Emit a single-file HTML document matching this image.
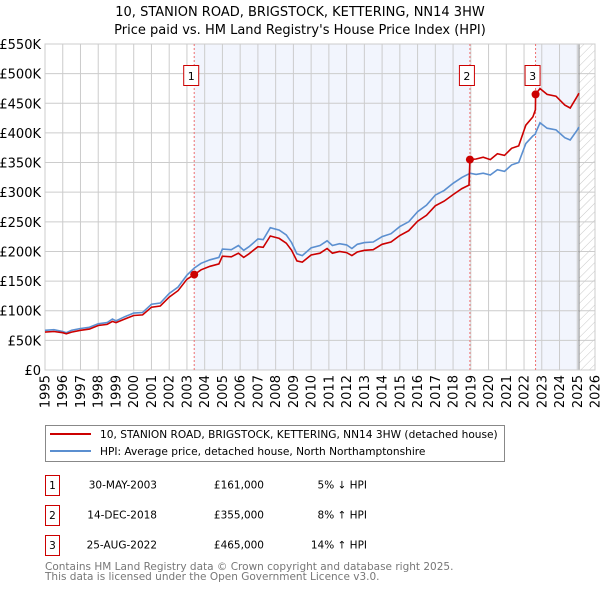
<!DOCTYPE html>
<html><head><meta charset="utf-8"><style>
body{margin:0;background:#fff;font-family:"DejaVu Sans","Liberation Sans",sans-serif;}
svg text{font-family:"DejaVu Sans","Liberation Sans",sans-serif;}
</style></head><body>
<svg id="c" width="600" height="590" xmlns="http://www.w3.org/2000/svg">
<defs><pattern id="hatch" width="6" height="6" patternUnits="userSpaceOnUse" patternTransform="rotate(45)"><line x1="0" y1="0" x2="0" y2="6" stroke="#bbb" stroke-width="0.8"/></pattern></defs>
<text x="300" y="16" text-anchor="middle" font-size="13">10, STANION ROAD, BRIGSTOCK, KETTERING, NN14 3HW</text>
<text x="300" y="34" text-anchor="middle" font-size="13">Price paid vs. HM Land Registry's House Price Index (HPI)</text>
<g id="plot"></g>
<g>
<rect x="45.5" y="425.5" width="459" height="36" fill="#fff" stroke="#888"/>
<line x1="50" y1="434" x2="91" y2="434" stroke="#cc0000" stroke-width="2"/>
<text x="100" y="438" font-size="10.6">10, STANION ROAD, BRIGSTOCK, KETTERING, NN14 3HW (detached house)</text>
<line x1="50" y1="451" x2="91" y2="451" stroke="#5b8fd0" stroke-width="2"/>
<text x="100" y="455" font-size="10.6">HPI: Average price, detached house, North Northamptonshire</text>
</g>
<g font-size="10.5">
<rect x="45.5" y="475.5" width="14" height="20" fill="#fff" stroke="#cc0000"/><text x="52.5" y="489" text-anchor="middle">1</text>
<text x="157" y="488.5" text-anchor="end">30-MAY-2003</text><text x="264" y="488.5" text-anchor="end">£161,000</text><text x="367" y="488.5" text-anchor="end">5% ↓ HPI</text>
<rect x="45.5" y="505.5" width="14" height="20" fill="#fff" stroke="#cc0000"/><text x="52.5" y="519" text-anchor="middle">2</text>
<text x="157" y="518.5" text-anchor="end">14-DEC-2018</text><text x="264" y="518.5" text-anchor="end">£355,000</text><text x="367" y="518.5" text-anchor="end">8% ↑ HPI</text>
<rect x="45.5" y="535.5" width="14" height="20" fill="#fff" stroke="#cc0000"/><text x="52.5" y="549" text-anchor="middle">3</text>
<text x="157" y="548.5" text-anchor="end">25-AUG-2022</text><text x="264" y="548.5" text-anchor="end">£465,000</text><text x="367" y="548.5" text-anchor="end">14% ↑ HPI</text>
</g>
<text x="45" y="570" font-size="10.5" fill="#777">Contains HM Land Registry data © Crown copyright and database right 2025.</text>
<text x="45" y="580" font-size="10.5" fill="#777">This data is licensed under the Open Government Licence v3.0.</text>
</svg>
<script>
const years=[1995,1995.5,1996,1996.2,1996.5,1997,1997.5,1998,1998.5,1998.8,1999,1999.5,2000,2000.5,2001,2001.5,2002,2002.5,2003,2003.41,2003.8,2004.3,2004.8,2005,2005.5,2005.9,2006.2,2006.5,2007,2007.3,2007.7,2008.2,2008.6,2008.9,2009.2,2009.5,2010,2010.5,2010.9,2011.2,2011.6,2012,2012.3,2012.6,2013,2013.5,2014,2014.5,2015,2015.5,2016,2016.5,2017,2017.5,2018,2018.5,2018.9,2018.95,2019.3,2019.7,2020.1,2020.5,2020.9,2021.3,2021.7,2022.1,2022.5,2022.64,2022.65,2022.9,2023.3,2023.8,2024.3,2024.6,2025.0,2025.1];
const hpi=[67,68,65,63,67,70,72,78,80,86,83,90,96,97,111,113,129,140,160,172,180,186,190,204,203,210,202,208,221,220,240,236,228,215,196,193,206,210,218,210,213,211,205,212,215,216,225,230,242,250,267,278,295,303,315,325,331,332,330,332,329,338,335,346,350,382,395,398,400,417,408,405,392,388,405,410];
const prop=[64,65,63,61,64,67,69,75,77,82,80,86,92,93,106,108,123,134,153,161,169,175,179,192,191,197,190,196,208,207,226,222,214,202,184,182,194,197,205,197,200,198,193,199,202,203,212,216,227,235,251,261,277,285,296,306,312,355,356,359,355,365,362,374,378,413,427,439,465,475,465,462,447,442,462,467];
const saleYears=[2003.41,2018.95,2022.65];
const salePrices=[161,355,465];
const saleLabels=["1","2","3"];
const yTicks=[0,50,100,150,200,250,300,350,400,450,500,550];
const yTickLabels=["£0","£50K","£100K","£150K","£200K","£250K","£300K","£350K","£400K","£450K","£500K","£550K"];
const xTicks=[1995,1996,1997,1998,1999,2000,2001,2002,2003,2004,2005,2006,2007,2008,2009,2010,2011,2012,2013,2014,2015,2016,2017,2018,2019,2020,2021,2022,2023,2024,2025,2026];
const dataEnd=2025.1;
const X0=45,X1=595,Y0=370,Y1=44;
const xs=y=>X0+(y-1995)/(2026-1995)*(X1-X0);
const ys=v=>Y0-v/550*(Y0-Y1);
const NS="http://www.w3.org/2000/svg";
const g=document.getElementById('plot');
function mk(t,a,p){const e=document.createElementNS(NS,t);for(const k in a)e.setAttribute(k,a[k]);(p||g).appendChild(e);return e;}
let s1=mk('rect',{x:xs(saleYears[0]),y:Y1,width:xs(saleYears[1])-xs(saleYears[0]),height:Y0-Y1,fill:'#f2f5fd'});


let s2=mk('rect',{x:xs(saleYears[2]),y:Y1,width:xs(dataEnd)-xs(saleYears[2]),height:Y0-Y1,fill:'#f2f5fd'});


let ht=mk('rect',{x:xs(dataEnd),y:Y1,width:X1-xs(dataEnd),height:Y0-Y1,fill:'url(#hatch)'});


yTicks.forEach((v,i)=>{
 const l=mk('line',{x1:X0,x2:X1,y1:ys(v),y2:ys(v),stroke:'#ccc','stroke-width':1});
 
 
 const t=mk('text',{x:X0-4,y:ys(v)+5,'text-anchor':'end','font-size':13});
 t.textContent=yTickLabels[i];
 
 
});
xTicks.forEach(yr=>{
 const l=mk('line',{x1:xs(yr),x2:xs(yr),y1:Y1,y2:Y0,stroke:'#ccc','stroke-width':1});
 
 
 const x=xs(yr)+4.5;
 const t=mk('text',{x:x,y:375,'text-anchor':'end','font-size':13,transform:`rotate(-90 ${x} 375)`});
 t.textContent=yr;
 
 
});
let el=mk('line',{x1:xs(dataEnd),x2:xs(dataEnd),y1:Y1,y2:Y0,stroke:'#888','stroke-width':1});


let fr=mk('rect',{x:X0,y:Y1,width:X1-X0,height:Y0-Y1,fill:'none',stroke:'#ccc'});


saleYears.forEach((yr,i)=>{
 const l=mk('line',{x1:xs(yr),x2:xs(yr),y1:Y1,y2:Y0,stroke:'#ee7070','stroke-width':1,'stroke-dasharray':'2,2'});
 
 
});
const pth=arr=>arr.map((v,i)=>(i?'L':'M')+xs(years[i]).toFixed(1)+','+ys(v).toFixed(1)).join('');
let hl=mk('path',{d:pth(hpi),fill:'none',stroke:'#5b8fd0','stroke-width':1.6});


let pl=mk('path',{d:pth(prop),fill:'none',stroke:'#cc0000','stroke-width':1.6});


saleYears.forEach((yr,i)=>{
 const c=mk('circle',{cx:xs(yr),cy:ys(salePrices[i]),r:4,fill:'#cc0000'});
 
 
 const bx=xs(yr)-3;
 const r=mk('rect',{x:bx-7.5,y:65.5,width:15,height:20,fill:'#fff',stroke:'#cc0000'});
 
 
 const t=mk('text',{x:bx,y:80,'text-anchor':'middle','font-size':11});
 t.textContent=saleLabels[i];
 
 
});
</script>
</body></html>
